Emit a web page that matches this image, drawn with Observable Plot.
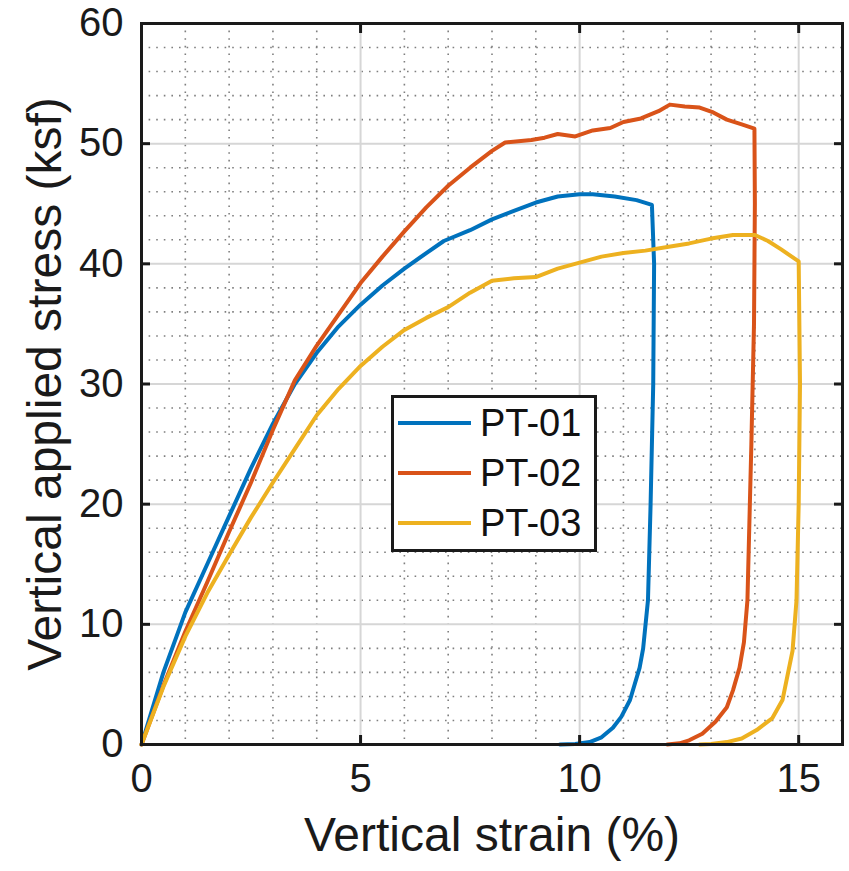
<!DOCTYPE html>
<html>
<head>
<meta charset="utf-8">
<script src="https://cdn.jsdelivr.net/npm/d3@7"></script>
<script src="https://cdn.jsdelivr.net/npm/@observablehq/plot@0.6"></script>
<style>
  html, body { margin: 0; padding: 0; background: #fff; }
  #wrap { position: relative; width: 849px; height: 871px; font-family: "Liberation Sans", Arial, sans-serif; }
  #legend { position: absolute; left: 391px; top: 395px; width: 200px; height: 151px; border: 3px solid #1a1a1a; background: #fff; }
  .row { position: relative; height: 50px; }
  .row .ln { position: absolute; left: 4px; top: 23px; width: 73px; height: 4px; }
  .row .tx { position: absolute; left: 86px; top: 0; line-height: 50px; font-size: 38px; color: #111; }
</style>
</head>
<body>
<div id="wrap"></div>
<script>
// ---- data ----
const series = ["PT-01", "PT-02", "PT-03"];
const colors = ["#0072BD", "#D95319", "#EDB120"];

const pt01X = [0, 0.5, 1, 1.5, 2, 2.5, 3, 3.5, 4, 4.5, 5, 5.5, 6, 6.5, 6.9, 7.5, 8, 8.5, 9, 9.5, 10, 10.3, 10.8, 11.3, 11.65, 11.7, 11.68, 11.62, 11.56, 11.45, 11.37, 11.15, 10.95, 10.76, 10.5, 10.23, 9.9, 9.55];
const pt01Y = [0, 6.0, 11.0, 15.0, 19.0, 23.0, 26.7, 30.0, 32.6, 34.8, 36.6, 38.2, 39.6, 40.9, 41.9, 42.8, 43.7, 44.4, 45.1, 45.6, 45.8, 45.8, 45.6, 45.3, 44.9, 40, 30, 20, 12, 8, 6.4, 3.7, 2.3, 1.4, 0.6, 0.2, 0.05, 0];

const pt02X = [0, 0.5, 1, 1.5, 2, 2.5, 3, 3.5, 4, 4.5, 5, 5.5, 6, 6.5, 7, 7.5, 8, 8.3, 8.9, 9.2, 9.5, 9.9, 10.3, 10.7, 11.0, 11.4, 11.8, 12.06, 12.4, 12.74, 13.05, 13.36, 13.7, 13.99, 14.0, 13.98, 13.92, 13.83, 13.75, 13.65, 13.5, 13.36, 13.1, 12.8, 12.5, 12.28, 12.0];
const pt02Y = [0, 4.9, 9.4, 13.5, 17.7, 21.8, 26.2, 30.3, 33.2, 35.8, 38.4, 40.6, 42.7, 44.7, 46.5, 48.0, 49.4, 50.1, 50.3, 50.5, 50.8, 50.6, 51.1, 51.3, 51.8, 52.1, 52.7, 53.25, 53.1, 53.0, 52.6, 52.0, 51.6, 51.25, 45, 35, 25, 12, 8.5, 6.4, 4.5, 3.1, 1.9, 0.9, 0.35, 0.1, 0];

const pt03X = [0, 0.5, 1, 1.5, 2, 2.5, 3, 3.5, 4, 4.5, 5, 5.5, 6, 6.5, 7, 7.5, 8, 8.5, 9, 9.5, 10, 10.5, 11, 11.5, 12, 12.5, 13, 13.5, 14, 14.3, 14.6, 15.0, 15.03, 15.0, 14.95, 14.86, 14.63, 14.4, 14.04, 13.7, 13.36, 13.0, 12.74];
const pt03Y = [0, 4.8, 9.0, 12.6, 15.8, 18.9, 21.8, 24.6, 27.4, 29.6, 31.5, 33.1, 34.5, 35.5, 36.4, 37.6, 38.6, 38.8, 38.9, 39.6, 40.1, 40.6, 40.9, 41.1, 41.4, 41.7, 42.1, 42.4, 42.4, 41.9, 41.2, 40.2, 30, 20, 12, 7.8, 3.7, 2.2, 1.2, 0.5, 0.2, 0.05, 0];

const xTicks = [0, 5, 10, 15];
const yTicks = [0, 10, 20, 30, 40, 50, 60];
const xMajorGrid = [5, 10, 15];
const yMajorGrid = [10, 20, 30, 40, 50];
const xMinorGrid = [1, 2, 3, 4, 6, 7, 8, 9, 11, 12, 13, 14];
const yMinorGrid = [2, 4, 6, 8, 12, 14, 16, 18, 22, 24, 26, 28, 32, 34, 36, 38, 42, 44, 46, 48, 52, 54, 56, 58];
const xLabel = "Vertical strain (%)";
const yLabel = "Vertical applied stress (ksf)";

// ---- build table ----
const xs = [pt01X, pt02X, pt03X];
const ys = [pt01Y, pt02Y, pt03Y];
const data = series.flatMap((s, i) => xs[i].map((x, j) => ({series: s, x, y: ys[i][j]})));

const font = "Liberation Sans, Arial, Helvetica, sans-serif";
const ink = "#1a1a1a";

const chart = Plot.plot({
  width: 849,
  height: 871,
  marginLeft: 141,
  marginRight: 7,
  marginTop: 23,
  marginBottom: 127,
  style: {fontFamily: font, background: "white", color: ink},
  x: {domain: [0, 16]},
  y: {domain: [0, 60]},
  color: {domain: series, range: colors},
  marks: [
    Plot.ruleX(xMinorGrid, {stroke: "#7f7f7f", strokeWidth: 1.6, strokeDasharray: "1.6,6"}),
    Plot.ruleY(yMinorGrid, {stroke: "#7f7f7f", strokeWidth: 1.6, strokeDasharray: "1.6,6"}),
    Plot.ruleX(xMajorGrid, {stroke: "#d6d6d6", strokeWidth: 2}),
    Plot.ruleY(yMajorGrid, {stroke: "#d6d6d6", strokeWidth: 2}),
    Plot.line(data, {x: "x", y: "y", z: "series", stroke: "series", strokeWidth: 4, strokeLinejoin: "round"}),
    Plot.frame({stroke: ink, strokeWidth: 3}),
    Plot.axisX(xTicks, {anchor: "bottom", tickSize: -9, tickPadding: 28, strokeWidth: 3, stroke: ink, fontSize: 40, label: null, fill: ink}),
    Plot.axisX(xTicks, {anchor: "top", tickSize: -9, strokeWidth: 3, stroke: ink, tickFormat: () => "", label: null}),
    Plot.axisY(yTicks, {anchor: "left", tickSize: -9, tickPadding: 27, strokeWidth: 3, stroke: ink, fontSize: 40, label: null, fill: ink}),
    Plot.axisY(yTicks, {anchor: "right", tickSize: -9, strokeWidth: 3, stroke: ink, tickFormat: () => "", label: null}),
    Plot.text([xLabel], {frameAnchor: "bottom", dy: 106, fontSize: 48, fill: ink}),
    Plot.text([yLabel], {frameAnchor: "left", rotate: -90, dx: -96, textAnchor: "middle", fontSize: 48, fill: ink})
  ]
});

const wrap = document.getElementById("wrap");
wrap.appendChild(chart);

// legend overlay
const legend = document.createElement("div");
legend.id = "legend";
series.forEach((s, i) => {
  const row = document.createElement("div");
  row.className = "row";
  const ln = document.createElement("div");
  ln.className = "ln";
  ln.style.background = colors[i];
  const tx = document.createElement("div");
  tx.className = "tx";
  tx.textContent = s;
  row.appendChild(ln);
  row.appendChild(tx);
  legend.appendChild(row);
});
wrap.appendChild(legend);
</script>
</body>
</html>
